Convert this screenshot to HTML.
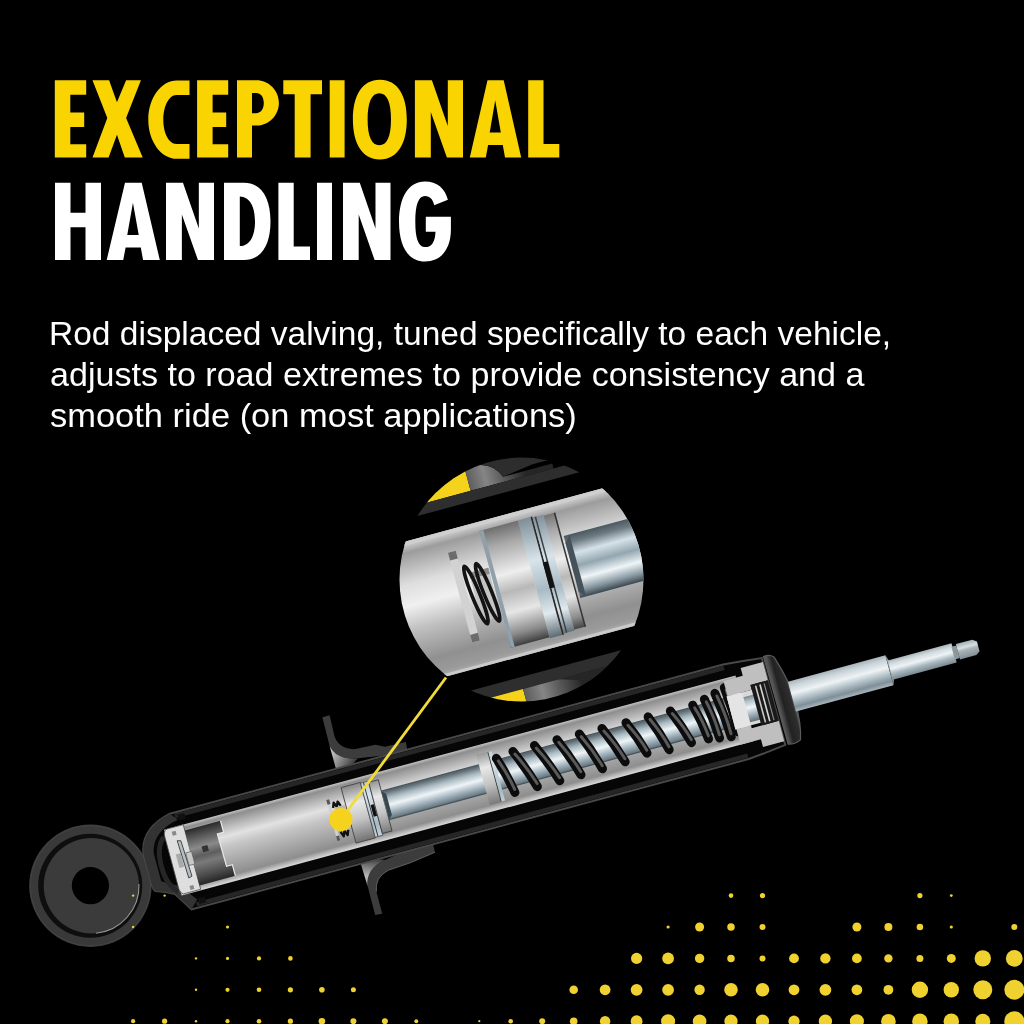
<!DOCTYPE html>
<html><head><meta charset="utf-8">
<style>
html,body{margin:0;padding:0;background:#000;width:1024px;height:1024px;overflow:hidden;position:relative}
.t{position:absolute;left:0;white-space:nowrap;font-family:"Liberation Sans",sans-serif;transform-origin:0 0;will-change:transform}
.h{font-weight:bold;font-size:98.7px;line-height:100px;letter-spacing:8px;-webkit-text-stroke:9.1px currentColor}
.b{font-size:33px;line-height:40px;color:#ffffff}
svg{position:absolute;left:0;top:0}
</style></head><body>
<svg width="1024" height="1024" viewBox="0 0 1024 1024">
<defs>
  <linearGradient id="tube" gradientUnits="userSpaceOnUse" x1="0" y1="-35" x2="0" y2="33">
    <stop offset="0" stop-color="#c4c4c4"/>
    <stop offset="0.05" stop-color="#8e8e8e"/>
    <stop offset="0.2" stop-color="#bcbcbc"/>
    <stop offset="0.33" stop-color="#e2e2e2"/>
    <stop offset="0.47" stop-color="#c6c6c6"/>
    <stop offset="0.7" stop-color="#a8a8a8"/>
    <stop offset="0.9" stop-color="#8e8e8e"/>
    <stop offset="0.96" stop-color="#bdbdbd"/>
    <stop offset="1" stop-color="#dadada"/>
  </linearGradient>
  <linearGradient id="rod" gradientUnits="userSpaceOnUse" x1="0" y1="-14" x2="0" y2="16">
    <stop offset="0" stop-color="#5e6a72"/>
    <stop offset="0.2" stop-color="#a9b8c0"/>
    <stop offset="0.45" stop-color="#eef5f8"/>
    <stop offset="0.7" stop-color="#9fb0ba"/>
    <stop offset="1" stop-color="#4e5a62"/>
  </linearGradient>
  <linearGradient id="prod" gradientUnits="userSpaceOnUse" x1="0" y1="-15.5" x2="0" y2="15.5">
    <stop offset="0" stop-color="#a8b4ba"/>
    <stop offset="0.15" stop-color="#c9d3d8"/>
    <stop offset="0.4" stop-color="#eef3f5"/>
    <stop offset="0.6" stop-color="#b8c6cd"/>
    <stop offset="0.85" stop-color="#7f8f98"/>
    <stop offset="1" stop-color="#a9b6bc"/>
  </linearGradient>
  <linearGradient id="prod2" gradientUnits="userSpaceOnUse" x1="0" y1="-10" x2="0" y2="10">
    <stop offset="0" stop-color="#a8b4ba"/>
    <stop offset="0.2" stop-color="#d2dbdf"/>
    <stop offset="0.45" stop-color="#eef3f5"/>
    <stop offset="0.7" stop-color="#a9b8bf"/>
    <stop offset="1" stop-color="#7a8890"/>
  </linearGradient>
  <linearGradient id="hexg" gradientUnits="userSpaceOnUse" x1="0" y1="-9" x2="0" y2="9">
    <stop offset="0" stop-color="#9aa6ac"/>
    <stop offset="0.35" stop-color="#d8e0e3"/>
    <stop offset="0.5" stop-color="#aab5ba"/>
    <stop offset="1" stop-color="#7d898f"/>
  </linearGradient>
  <linearGradient id="piston" gradientUnits="userSpaceOnUse" x1="0" y1="-29" x2="0" y2="29">
    <stop offset="0" stop-color="#8a8a8a"/>
    <stop offset="0.3" stop-color="#e8e8e8"/>
    <stop offset="0.6" stop-color="#c4c4c4"/>
    <stop offset="1" stop-color="#6e6e6e"/>
  </linearGradient>
  <linearGradient id="dark" gradientUnits="userSpaceOnUse" x1="0" y1="-30" x2="0" y2="30">
    <stop offset="0" stop-color="#2a2a2a"/>
    <stop offset="0.35" stop-color="#6a6a6a"/>
    <stop offset="0.6" stop-color="#444"/>
    <stop offset="1" stop-color="#222"/>
  </linearGradient>
  <linearGradient id="web" x1="0" y1="0" x2="1" y2="1">
    <stop offset="0" stop-color="#aaa"/>
    <stop offset="1" stop-color="#333"/>
  </linearGradient>
  <clipPath id="insetclip"><circle cx="521.5" cy="579.6" r="122"/></clipPath>
</defs>

<!-- ===== HEADING ===== -->
<g fill="#f9d400" fill-rule="evenodd"><path transform="translate(54.8 80.3)" d="M0,0 H31.4 V14.4 H15.5 V32.2 H29.4 V46.7 H15.5 V63.9 H31.4 V77.2 H0 Z"/><path transform="translate(91.9 80.3)" d="M0.596477495107632,0 H17.19843444227006 L25.052054794520547,21.9 L34.19804305283757,0 H49.0105675146771 L34.19804305283757,37.7 L50.8,77.2 H32.90567514677104 L25.052054794520547,54.5 L16.7013698630137,77.2 H0.596477495107632 L15.409001956947161,37.7 Z"/><path transform="translate(148.3 80.3)" d="M41.2,0.3 H28.5 C12.8,0.3 0,17.8 0,39.4 C0,61 12.8,78.5 28.5,78.5 H41.2 V63.6 H28 C20.8,63.6 15,53 15,39.4 C15,25.7 20.8,14.6 28,14.6 H41.2 Z"/><path transform="translate(197.1 80.3)" d="M0,0 H31.1 V14.4 H15.5 V32.2 H29.1 V46.7 H15.5 V63.9 H31.1 V77.2 H0 Z"/><path transform="translate(237 80.3)" d="M0,0 H19.5 C31.6,0 41.9,10.1 41.9,22.6 C41.9,35.1 31.6,45.2 19.5,45.2 H15 V77.2 H0 Z M15,12.7 H19 C24,12.7 26.8,17 26.8,22.8 C26.8,28.6 24,32.9 19,32.9 H15 Z"/><path transform="translate(283.3 80.3)" d="M0,0 H38.7 V14 H27.3 V77.2 H11.400000000000002 V14 H0 Z"/><path transform="translate(329.7 80.3)" d="M0,0 H14.9 V77.2 H0 Z"/><path transform="translate(352.9 80.3)" d="M27.0,-0.6 C9.0,-0.6 0,15.4 0,39.2 C0,63 9.0,79.1 27.0,79.1 C45.0,79.1 53.9,63 53.9,39.2 C53.9,15.4 45.0,-0.6 27.0,-0.6 Z M26.4,12.9 C19.0,12.9 14.7,21.5 14.7,39 C14.7,56.5 19.0,65 26.4,65 C34.0,65 38.1,56.5 38.1,39 C38.1,21.5 34.0,12.9 26.4,12.9 Z"/><path transform="translate(414.9 80.3)" d="M0,0 H17.0 L32.9,45.7 V0 H48.1 V77.2 H32.0 L15.9,31.6 V77.2 H0 Z"/><path transform="translate(469.8 80.3)" d="M0,77.2 L17.7,0 H33.9 L51.4,77.2 H35.2 L33.0,64.8 H18.3 L16.0,77.2 Z M25.4,20 L31.0,52.2 H19.9 Z"/><path transform="translate(528.2 80.3)" d="M0,0 H15.3 V63.6 H31.1 V77.2 H0 Z"/></g>
<g fill="#ffffff" fill-rule="evenodd"><path transform="translate(55 182.8)" d="M0,0 H15.5 V30 H30.5 V0 H46 V77.2 H30.5 V44.4 H15.5 V77.2 H0 Z"/><path transform="translate(106.7 182.8)" d="M0,77.2 L18.285408560311286,0 H35.021206225680935 L53.1,77.2 H36.364202334630356 L34.09143968871596,64.8 H18.90525291828794 L16.529182879377434,77.2 Z M26.240077821011674,20 L32.025291828793776,52.2 H20.55817120622568 Z"/><path transform="translate(166 182.8)" d="M0,0 H16.964656964656964 L32.83160083160083,45.7 V0 H48.0 V77.2 H31.93347193347193 L15.866943866943867,31.6 V77.2 H0 Z"/><path transform="translate(224 182.8)" d="M0,0 H20 C38,0 46.5,16 46.5,38.7 C46.5,61.2 38,77.2 20,77.2 H0 Z M15.8,13.6 C26,13.9 31,24 31,38.6 C31,53 26,63.2 15.8,63.2 Z"/><path transform="translate(278.4 182.8)" d="M0,0 H15.3 V63.6 H31.6 V77.2 H0 Z"/><path transform="translate(317 182.8)" d="M0,0 H15 V77.2 H0 Z"/><path transform="translate(343 182.8)" d="M0,0 H16.787941787941786 L32.48960498960499,45.7 V0 H47.5 V77.2 H31.6008316008316 L15.701663201663202,31.6 V77.2 H0 Z"/><path transform="translate(399 182.8)" d="M48.9,17 C46,5.5 38,-1.3 26,-1.3 C9,-1.3 0,15 0,39 C0,63.5 9,78.7 26,78.7 C43,78.7 51.9,65 51.9,47 V34 H26.8 V48.9 H36.5 C36,59 33,64.3 26,64.3 C19.5,64.3 16.3,56 16.3,39 C16.3,22 19.5,13.3 26,13.3 C31,13.3 34,17 35.2,22.4 Z"/></g>

<!-- ===== SHOCK ===== -->
<g id="eye">
  <defs>
    <linearGradient id="eyehl" x1="0" y1="0" x2="1" y2="1">
      <stop offset="0" stop-color="#3a3a3a"/><stop offset="0.6" stop-color="#bbbbbb"/><stop offset="1" stop-color="#555"/>
    </linearGradient>
  </defs>
  <circle cx="90.4" cy="885.7" r="61.2" fill="#393939"/>
  <circle cx="90.4" cy="885.7" r="60.2" fill="none" stroke="#444" stroke-width="1"/>
  <circle cx="90.2" cy="885.7" r="52" fill="#0e0e0e"/>
  <circle cx="91.4" cy="885.7" r="47.7" fill="#3b3b3b"/>
  <path d="M139 884 A47.7 47.7 0 0 1 96 933.2" stroke="url(#eyehl)" stroke-width="1.1" fill="none" opacity="0.8"/>
  <circle cx="90.4" cy="885.7" r="18.6" fill="#000"/>
</g>

<g id="shock" transform="translate(90 886) rotate(-15.1)">
  <defs>
    <linearGradient id="webg" gradientUnits="userSpaceOnUse" x1="268" y1="-70" x2="288" y2="-50">
      <stop offset="0" stop-color="#d0d0d0"/><stop offset="0.5" stop-color="#8a8a8a"/><stop offset="1" stop-color="#3a3a3a"/>
    </linearGradient>
    <linearGradient id="webg2" gradientUnits="userSpaceOnUse" x1="268" y1="90" x2="285" y2="50">
      <stop offset="0" stop-color="#9a9a9a"/><stop offset="0.6" stop-color="#b8b8b8"/><stop offset="1" stop-color="#444"/>
    </linearGradient>
    <linearGradient id="capg" gradientUnits="userSpaceOnUse" x1="712" y1="0" x2="729" y2="0">
      <stop offset="0" stop-color="#555"/><stop offset="0.3" stop-color="#222"/><stop offset="0.8" stop-color="#2e2e2e"/><stop offset="1" stop-color="#777"/>
    </linearGradient>
    <linearGradient id="bvdark" gradientUnits="userSpaceOnUse" x1="0" y1="-29" x2="0" y2="28">
      <stop offset="0" stop-color="#2a2a2a"/><stop offset="0.15" stop-color="#555"/><stop offset="0.35" stop-color="#8a8a8a"/><stop offset="0.5" stop-color="#5e5e5e"/><stop offset="0.62" stop-color="#7a7a7a"/><stop offset="0.85" stop-color="#4a4a4a"/><stop offset="1" stop-color="#262626"/>
    </linearGradient>
  </defs>
  <!-- brackets -->
  <path d="M268.3 -102.5 L275.8 -102.4 L275 -80 Q277 -66 292 -63 L312.4 -62 L321 -57.5 L342.4 -56.7 L341.5 -45.7 L317.4 -49.5 L292 -53.5 Q271 -57 267.8 -72.7 Z" fill="#3c3c3c"/>
  <path d="M267.8 -72.7 Q271 -57 292 -53.5 L285 -49 L268 -49 Z" fill="url(#webg)"/>
  <path d="M267.8 102.3 L274.9 103 L275 80 Q277 66 292 62.5 L315.3 61 L341.8 57.3 L342.3 46.5 L319.2 47.5 L292 51.5 Q271 55 268 72 Z" fill="#3c3c3c"/>
  <path d="M268 72 Q271 55 292 51.5 L284 49 L267.2 49 Z" fill="url(#webg2)"/>
  <path d="M275 80 Q277 66 292 62.5 L315.3 61 L341.8 57.3" stroke="#6a6a6a" stroke-width="0.8" fill="none"/>

  <!-- outer body -->
  <path d="M96 -49 L669 -49 L686 -47.5 L708 -45 L708 45 L686 47.5 L669 49 L92 49 L80 30 Q72 25 62 22 Q60 20 60 16 L60 -17 Q64 -42 96 -49 Z" fill="#060606" stroke="#484848" stroke-width="2"/>
  <path d="M100 -45.5 L669 -45.5 M98 45.5 L669 45.5" stroke="#262626" stroke-width="4.5"/>
  <!-- left end cap thick -->
  <path d="M96 -49 Q64 -42 60 -17 L60 16 Q60 20 62 22 Q72 25 80 30 L92 49 L100 41 L88 25 Q77 18 70 14 L70 -15 Q74 -36 102 -41 Z" fill="#333"/>
  <path d="M84 -28 Q74 -20 74 0 Q74 20 84 28" stroke="#262626" stroke-width="5" fill="none"/>
  <rect x="103" y="-46" width="7" height="6" fill="#111"/>
  <rect x="101" y="40" width="7" height="6" fill="#111"/>

  <!-- inner tube -->
  <rect x="86" y="-35" width="592" height="68" fill="url(#tube)"/>
  <!-- base valve light block -->
  <path d="M90 -35 L106 -35 L106 32 L88 32 Q85 30 85 26 L85 -30 Q86 -35 90 -35 Z" fill="#dedede" stroke="#444" stroke-width="0.7"/>
  <rect x="93" y="-31" width="4" height="4" fill="#888"/>
  <rect x="96" y="26" width="4" height="4" fill="#888"/>
  <!-- base valve window -->
  <path d="M106 -29 L143 -29 L143 -17 L136.5 -17 L137 16.5 L143 16.5 L143 28 L106 28 Z" fill="url(#bvdark)"/>
  <path d="M143 -29 L143 -17 L136.5 -17 L137 16.5 L143 16.5 L143 28" stroke="#e8e8e8" stroke-width="1.2" fill="none"/>
  <rect x="118" y="-9" width="6" height="6" fill="#333"/>
  <!-- valve disk + nut -->
  <path d="M96 -21 L99.5 -20 L101 17 L97.5 18 Z" fill="#b4c0c6" stroke="#333" stroke-width="0.8"/>
  <rect x="91" y="-8" width="5" height="14" fill="#aaa"/>
  <rect x="101" y="-7" width="6" height="13" fill="#c8c8c8" stroke="#555" stroke-width="0.6"/>

  <!-- piston -->
  <rect x="250.5" y="-21.5" width="3" height="42" fill="#d0d0d0"/>
  <rect x="250.5" y="-21.5" width="3" height="5" fill="#555"/>
  <rect x="250.5" y="16" width="3" height="5" fill="#555"/>
  <g stroke="#111" stroke-width="2.4" fill="none" stroke-linejoin="round"><path d="M255 -12 L257 -17 L259 -12 L261 -17 L263 -12"/><path d="M256 13 L258 18 L260 13 L262 18 L264 13"/></g>
  <rect x="257" y="-12" width="10" height="24" fill="#b8b8b8"/>
  <rect x="268" y="-29.6" width="20" height="57.5" fill="url(#piston)" stroke="#4a4a4a" stroke-width="0.9"/>
  <rect x="288" y="-28.8" width="8" height="56" fill="url(#iblue)" stroke="#3a3a3a" stroke-width="0.6"/>
  <rect x="290.5" y="-28.8" width="0.9" height="56" fill="#333"/>
  <rect x="292" y="-5" width="3.5" height="12" fill="#111"/>
  <rect x="296" y="-27.5" width="10" height="53" fill="url(#piston)" stroke="#3a3a3a" stroke-width="0.8"/>
  <!-- piston rod inside -->
  <rect x="306" y="-15.7" width="374" height="29.5" fill="url(#rod)"/>
  <path d="M306 -15.7 H680 M306 13.8 H680" stroke="#46545c" stroke-width="1.2"/>
  <path d="M306 -15.7 L310 -12 L310 10 L306 13.8 Z" fill="#3a464e"/>
  <!-- collar -->
  <rect x="407" y="-26" width="12" height="52" fill="url(#piston)"/>
  <rect x="419" y="-25.5" width="4" height="51" fill="url(#iblue)"/>
  <rect x="418.6" y="-25.5" width="0.8" height="51" fill="#333"/>

  <!-- spring coils -->
  <g stroke="#0c0c0c" stroke-width="9" stroke-linecap="round" fill="none">
    <path d="M425.6 -17.4 Q431.6 1.5 434.6 20.4"/><path d="M443.4 -19.7 Q452.1 0.45000000000000107 457.8 20.6"/><path d="M465.7 -19.8 Q474.85 0.5 481 20.8"/><path d="M488.9 -19.5 Q497.45 0.5 503 20.5"/><path d="M512 -19.2 Q520.15 0.5500000000000007 525.3 20.3"/><path d="M535.3 -18.8 Q543.65 0.34999999999999964 549 19.5"/><path d="M560 -18.1 Q567.7 -0.6000000000000014 572.4 16.9"/><path d="M582.9 -17.9 Q590.3 0.7000000000000011 594.7 19.3"/><path d="M605.9 -17.8 Q613.5 0.25 618.1 18.3"/><path d="M629 -17.6 Q633.75 0.75 635.5 19.1"/><path d="M641.8 -20.2 Q645.5999999999999 0.45000000000000107 646.4 21.1"/><path d="M653.5 -23.2 Q657.25 -0.09999999999999964 658 23"/><path d="M664.1 -26.3 Q666.55 -3.1500000000000004 666 20"/>
  </g>
  <g stroke="#747474" stroke-width="3" stroke-linecap="round" fill="none" opacity="0.75">
    <path d="M426.8 -14.399999999999999 Q432.8 1.5 435.20000000000005 17.4"/><path d="M444.59999999999997 -16.7 Q453.3 0.45000000000000107 458.40000000000003 17.6"/><path d="M466.9 -16.8 Q476.05 0.5 481.6 17.8"/><path d="M490.09999999999997 -16.5 Q498.65 0.5 503.6 17.5"/><path d="M513.2 -16.2 Q521.35 0.5500000000000007 525.9 17.3"/><path d="M536.5 -15.8 Q544.85 0.34999999999999964 549.6 16.5"/><path d="M561.2 -15.100000000000001 Q568.9000000000001 -0.6000000000000014 573.0 13.899999999999999"/><path d="M584.1 -14.899999999999999 Q591.5 0.7000000000000011 595.3000000000001 16.3"/><path d="M607.1 -14.8 Q614.7 0.25 618.7 15.3"/><path d="M630.2 -14.600000000000001 Q634.95 0.75 636.1 16.1"/><path d="M643.0 -17.2 Q646.8 0.45000000000000107 647.0 18.1"/><path d="M654.7 -20.2 Q658.45 -0.09999999999999964 658.6 20"/><path d="M665.3000000000001 -23.3 Q667.75 -3.1500000000000004 666.6 17"/>
  </g>

  <!-- rod guide -->
  <path d="M665 -33 L685 -33 L685 -41 L708 -41 L708 -22 L690 -22 L690 -17 L665 -17 Z" fill="#bfbfbf"/>
  <path d="M665 17 L680 17 L680 20 L708 20 L708 41 L686 41 L686 33 L665 33 Z" fill="#bfbfbf"/>
  <rect x="664" y="-17" width="28" height="34" fill="#d8d8d8"/>
  <rect x="664" y="-17" width="16" height="34" fill="#e4e4e4"/>
  <rect x="680" y="-12" width="12" height="26" fill="url(#rod)"/>
  <rect x="690" y="-22" width="18" height="42" fill="#1a1a1a"/>
  <rect x="694" y="-20" width="1.6" height="38" fill="#c8c8c8"/>
  <rect x="698.5" y="-20" width="1.6" height="38" fill="#d8d8d8"/>
  <rect x="703" y="-20" width="1.2" height="38" fill="#888"/>
  <!-- end cap -->
  <path d="M710 -46 Q716 -47 720 -43 Q729 -15 729 5 Q729 30 724 44 Q718 47 711 45 Z" fill="url(#capg)" stroke="#5a5a5a" stroke-width="1.2"/>

  <!-- outside rod -->
  <rect x="727" y="-15.5" width="101" height="31" fill="url(#prod)"/>
  <path d="M828 -15.5 L830 -10 L830 10 L828 15.5 Z" fill="#8a969c"/>
  <rect x="829" y="-10" width="66" height="20" fill="url(#prod2)"/>
  <rect x="894" y="-6.5" width="5" height="13" fill="#8d989d"/>
  <path d="M899 -8 L916 -8 L920 -5 L920 5 L916 8 L899 8 Z" fill="url(#hexg)"/>
</g>

<!-- yellow pointer -->
<line x1="341" y1="819.5" x2="446" y2="677.5" stroke="#f2dc3a" stroke-width="2.8"/>
<circle cx="341" cy="819.5" r="11.5" fill="#f5d31c"/>

<!-- ===== INSET ===== -->
<defs>
  <linearGradient id="itube" gradientUnits="userSpaceOnUse" x1="0" y1="-67" x2="0" y2="74">
    <stop offset="0" stop-color="#d4d4d4"/>
    <stop offset="0.04" stop-color="#bdbdbd"/>
    <stop offset="0.08" stop-color="#9c9c9c"/>
    <stop offset="0.3" stop-color="#dedede"/>
    <stop offset="0.45" stop-color="#f0f0f0"/>
    <stop offset="0.62" stop-color="#c0c0c0"/>
    <stop offset="0.85" stop-color="#909090"/>
    <stop offset="0.95" stop-color="#9a9a9a"/>
    <stop offset="1" stop-color="#b0b0b0"/>
  </linearGradient>
  <linearGradient id="ipiston" gradientUnits="userSpaceOnUse" x1="0" y1="-58" x2="0" y2="63">
    <stop offset="0" stop-color="#6e6e6e"/>
    <stop offset="0.15" stop-color="#a8a8a8"/>
    <stop offset="0.4" stop-color="#eeeeee"/>
    <stop offset="0.55" stop-color="#b8b8b8"/>
    <stop offset="0.72" stop-color="#e6e6e6"/>
    <stop offset="0.9" stop-color="#8a8a8a"/>
    <stop offset="1" stop-color="#3e3e3e"/>
  </linearGradient>
  <linearGradient id="iblue" gradientUnits="userSpaceOnUse" x1="0" y1="-58" x2="0" y2="64">
    <stop offset="0" stop-color="#7e8e98"/>
    <stop offset="0.35" stop-color="#d8e4ea"/>
    <stop offset="0.6" stop-color="#a8bac4"/>
    <stop offset="0.8" stop-color="#e0eaee"/>
    <stop offset="1" stop-color="#5c6a72"/>
  </linearGradient>
  <linearGradient id="irod" gradientUnits="userSpaceOnUse" x1="0" y1="-31" x2="0" y2="33">
    <stop offset="0" stop-color="#4c5860"/>
    <stop offset="0.12" stop-color="#6c7a82"/>
    <stop offset="0.3" stop-color="#d6e2e8"/>
    <stop offset="0.5" stop-color="#93a6b0"/>
    <stop offset="0.7" stop-color="#eef5f8"/>
    <stop offset="0.88" stop-color="#8797a0"/>
    <stop offset="1" stop-color="#3c474e"/>
  </linearGradient>
  <linearGradient id="iweb" gradientUnits="userSpaceOnUse" x1="-26" y1="0" x2="32" y2="0">
    <stop offset="0" stop-color="#5e5e5e"/>
    <stop offset="0.3" stop-color="#858585"/>
    <stop offset="0.6" stop-color="#5a5a5a"/>
    <stop offset="1" stop-color="#262626"/>
  </linearGradient>
</defs>
<g clip-path="url(#insetclip)">
  <g transform="translate(521.5 579.6) rotate(-15.1)">
    <rect x="-200" y="-200" width="400" height="400" fill="#000"/>
    <!-- top bracket pieces -->
    <path d="M-200 -200 L-26 -200 L-26 -99 L-200 -99 Z" fill="#f5d31c"/>
    <path d="M-26 -200 L-10 -200 L-10 -121.5 Q4 -118 9 -104 L60 -104 L60 -99 L-26 -99 Z" fill="url(#iweb)"/>
    <path d="M-10 -200 L200 -200 L200 -108.5 L40 -108.5 L9 -104 Q4 -118 -10 -121.5 Z" fill="#2d2d2d"/>
    <rect x="-200" y="-99" width="400" height="10.5" fill="#2e2e2e"/>
    <!-- bottom bracket pieces -->
    <rect x="-200" y="94" width="400" height="12" fill="#2e2e2e"/>
    <path d="M-200 106 L-27 106 L-27 200 L-200 200 Z" fill="#f5d31c"/>
    <path d="M-27 106 L10 106 Q16 112 24 124 L-27 200 Z" fill="url(#iweb)"/>
    <path d="M-27 130 L-27 200 L200 200 L200 106 L10 106 Q18 118 24 124 Z" fill="url(#iweb)"/>
    <path d="M10 106 L200 106 L200 200 L39 115 Z" fill="#262626"/>
    <!-- tube -->
    <rect x="-200" y="-67" width="400" height="141" fill="url(#itube)"/>
    <rect x="-200" y="-67" width="400" height="4" fill="#cfcfcf"/>
    <rect x="-200" y="71" width="400" height="3" fill="#cacaca"/>
    <!-- spring seat plate -->
    <rect x="-64" y="-45" width="8" height="93" fill="#d2d2d2"/>
    <rect x="-64" y="-45" width="8" height="8" fill="#6c6c6c"/>
    <rect x="-64" y="40" width="8" height="8" fill="#6c6c6c"/>
    <!-- small spring -->
    <rect x="-49" y="-20" width="20" height="50" fill="#c4c4c4"/>
    <rect x="-49" y="-20" width="20" height="6" fill="#8a8a8a"/>
    <g stroke="#141414" stroke-width="3.6" fill="none">
      <ellipse cx="-48" cy="3" rx="4" ry="31" transform="rotate(-7 -48 3)"/>
      <ellipse cx="-36" cy="3.5" rx="4" ry="31" transform="rotate(-7 -36 3.5)"/>
    </g>
    <!-- piston -->
    <rect x="-28" y="-58" width="40" height="121" fill="url(#ipiston)"/>
    <rect x="-28" y="-58" width="4" height="121" fill="#8fa0aa"/>
    <rect x="12" y="-58" width="13" height="122" fill="url(#iblue)"/>
    <rect x="25" y="-58" width="1.8" height="122" fill="#2a2a2a"/>
    <rect x="26.8" y="-57" width="11.2" height="120" fill="url(#iblue)"/>
    <rect x="29" y="-57" width="1.5" height="120" fill="#3a4448"/>
    <rect x="25" y="-11" width="5" height="27" fill="#111"/>
    <rect x="38" y="-56" width="12" height="118" fill="url(#ipiston)"/>
    <rect x="48.5" y="-56" width="1.5" height="118" fill="#333"/>
    <!-- rod -->
    <rect x="52" y="-31" width="150" height="64" fill="url(#irod)"/>
    <path d="M52 -24 L58 -31 L58 33 L52 27 Z" fill="#46525a"/>
  </g>
</g>

<!-- ===== DOTS ===== -->
<g id="dots" fill="#efd130"><circle cx="133.1" cy="895.6" r="1.2"/><circle cx="164.6" cy="895.6" r="1.2"/><circle cx="731.0" cy="895.6" r="2.3"/><circle cx="762.5" cy="895.6" r="2.6"/><circle cx="919.9" cy="895.6" r="2.6"/><circle cx="951.3" cy="895.6" r="1.4"/><circle cx="133.1" cy="927.0" r="1.2"/><circle cx="227.5" cy="927.0" r="1.6"/><circle cx="668.1" cy="927.0" r="1.6"/><circle cx="699.6" cy="927.0" r="4.5"/><circle cx="731.0" cy="927.0" r="3.75"/><circle cx="762.5" cy="927.0" r="3.0"/><circle cx="856.9" cy="927.0" r="4.5"/><circle cx="888.4" cy="927.0" r="4.0"/><circle cx="919.9" cy="927.0" r="3.3"/><circle cx="951.3" cy="927.0" r="1.6"/><circle cx="1014.3" cy="927.0" r="3.0"/><circle cx="196.0" cy="958.4" r="1.2"/><circle cx="227.5" cy="958.4" r="1.6"/><circle cx="259.0" cy="958.4" r="2.1"/><circle cx="290.4" cy="958.4" r="2.3"/><circle cx="636.6" cy="958.4" r="5.6"/><circle cx="668.1" cy="958.4" r="5.9"/><circle cx="699.6" cy="958.4" r="4.7"/><circle cx="731.0" cy="958.4" r="3.75"/><circle cx="762.5" cy="958.4" r="3.0"/><circle cx="794.0" cy="958.4" r="4.9"/><circle cx="825.4" cy="958.4" r="5.2"/><circle cx="856.9" cy="958.4" r="4.9"/><circle cx="888.4" cy="958.4" r="4.2"/><circle cx="919.9" cy="958.4" r="3.5"/><circle cx="951.3" cy="958.4" r="4.5"/><circle cx="982.8" cy="958.4" r="8.2"/><circle cx="1014.3" cy="958.4" r="8.4"/><circle cx="196.0" cy="989.8" r="1.2"/><circle cx="227.5" cy="989.8" r="2.1"/><circle cx="259.0" cy="989.8" r="2.3"/><circle cx="290.4" cy="989.8" r="2.6"/><circle cx="321.9" cy="989.8" r="2.8"/><circle cx="353.4" cy="989.8" r="2.5"/><circle cx="573.7" cy="989.8" r="4.3"/><circle cx="605.1" cy="989.8" r="5.4"/><circle cx="636.6" cy="989.8" r="5.9"/><circle cx="668.1" cy="989.8" r="5.9"/><circle cx="699.6" cy="989.8" r="5.2"/><circle cx="731.0" cy="989.8" r="6.8"/><circle cx="762.5" cy="989.8" r="6.8"/><circle cx="794.0" cy="989.8" r="5.4"/><circle cx="825.4" cy="989.8" r="5.9"/><circle cx="856.9" cy="989.8" r="5.4"/><circle cx="888.4" cy="989.8" r="4.9"/><circle cx="919.9" cy="989.8" r="8.2"/><circle cx="951.3" cy="989.8" r="7.7"/><circle cx="982.8" cy="989.8" r="9.5"/><circle cx="1014.3" cy="989.8" r="10"/><circle cx="133.1" cy="1021.2" r="2.1"/><circle cx="164.6" cy="1021.2" r="2.6"/><circle cx="196.0" cy="1021.2" r="1.2"/><circle cx="227.5" cy="1021.2" r="2.1"/><circle cx="259.0" cy="1021.2" r="2.3"/><circle cx="290.4" cy="1021.2" r="2.6"/><circle cx="321.9" cy="1021.2" r="3.3"/><circle cx="353.4" cy="1021.2" r="3.0"/><circle cx="384.9" cy="1021.2" r="3.0"/><circle cx="416.3" cy="1021.2" r="2.0"/><circle cx="479.3" cy="1021.2" r="1.1"/><circle cx="510.7" cy="1021.2" r="2.3"/><circle cx="542.2" cy="1021.2" r="3.0"/><circle cx="573.7" cy="1021.2" r="3.8"/><circle cx="605.1" cy="1021.2" r="5.2"/><circle cx="636.6" cy="1021.2" r="5.9"/><circle cx="668.1" cy="1021.2" r="7.0"/><circle cx="699.6" cy="1021.2" r="6.8"/><circle cx="731.0" cy="1021.2" r="6.6"/><circle cx="762.5" cy="1021.2" r="6.6"/><circle cx="794.0" cy="1021.2" r="5.6"/><circle cx="825.4" cy="1021.2" r="6.6"/><circle cx="856.9" cy="1021.2" r="7.0"/><circle cx="888.4" cy="1021.2" r="7.3"/><circle cx="919.9" cy="1021.2" r="7.7"/><circle cx="951.3" cy="1021.2" r="7.7"/><circle cx="982.8" cy="1021.2" r="7.5"/><circle cx="1014.3" cy="1021.2" r="10"/></g>
</svg>

<div class="t b" style="top:313.7px;left:49.4px;transform:scaleX(1.0157)">Rod displaced valving, tuned specifically to each vehicle,</div>
<div class="t b" style="top:354.7px;left:49.87px;transform:scaleX(1.0325)">adjusts to road extremes to provide consistency and a</div>
<div class="t b" style="top:395.7px;left:49.86px;transform:scaleX(1.0444)">smooth ride (on most applications)</div>
</body></html>
